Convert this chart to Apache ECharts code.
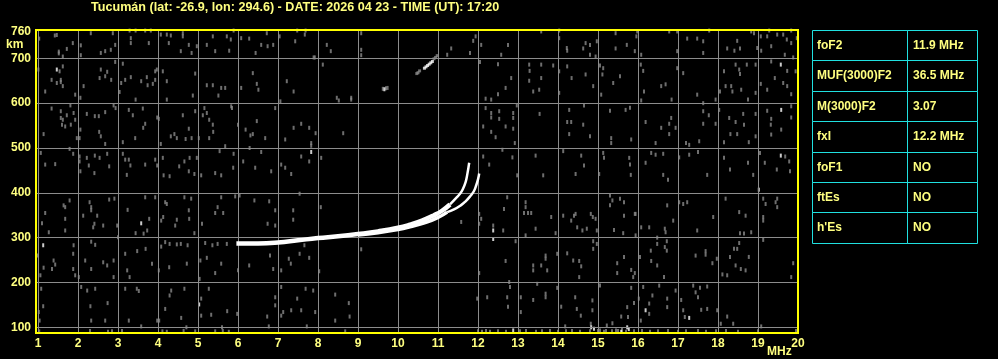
<!DOCTYPE html>
<html><head><meta charset="utf-8">
<script src="https://cdn.jsdelivr.net/npm/echarts@6/dist/echarts.min.js"></script>
<style>html,body{margin:0;padding:0;background:#000;}#c{width:998px;height:359px;}</style>
</head><body><div id="c"></div>
<script>
const titleText = 'Tucumán (lat: -26.9, lon: 294.6) - DATE: 2026 04 23 - TIME (UT): 17:20';
const freqTicks = [1,2,3,4,5,6,7,8,9,10,11,12,13,14,15,16,17,18,19,20];
const heightTicks = [100,200,300,400,500,600,700,760];
const heightGrid = [100,200,300,400,500,600,700];
const paramNames = ['foF2','MUF(3000)F2','M(3000)F2','fxI','foF1','ftEs',"h'Es"];
const paramValues = ['11.9 MHz','36.5 MHz','3.07','12.2 MHz','NO','NO','NO'];

// O-mode trace (thick lower part, thin upper cusp)
const oTraceLow = [[5.96,287],[6.5,287],[7.0,289],[7.5,294],[8.0,299],[8.5,303],[9.0,308],[9.5,314],[10.0,322],[10.3,329],[10.6,338],[10.9,350],[11.1,360],[11.3,374]];
const oTraceHigh = [[11.3,374],[11.45,388],[11.55,398],[11.62,408],[11.69,424],[11.73,440],[11.78,467]];
// X-mode trace
const xTraceLow = [[9.0,306],[9.5,311],[10.0,318],[10.3,324],[10.7,334],[11.0,345],[11.23,357]];
const xTraceHigh = [[11.23,357],[11.4,363],[11.57,372],[11.69,381],[11.82,394],[11.9,404],[11.96,418],[12.0,430],[12.03,443]];
// second-hop fragment
const echoGray = [[10.47,666],[10.5,668],[10.54,672],[10.9,699],[10.94,702],[10.98,706]];
const echoWhite = [[10.66,678],[10.7,681],[10.74,684],[10.78,687],[10.82,690],[10.86,693]];

const noiseGray = [
[1.47,752],[1.42,751],[1.03,744],[1.52,715],[1.52,711],[1.62,704],[1.72,721],[1.87,734],[2.07,729],[2.07,707],[2.32,756],[2.57,712],[2.68,716],[2.82,719],[2.87,756],[2.93,730],[3.29,762],[3.32,745],[3.32,734],[3.44,762],[3.68,762],[3.77,734],[3.82,762],[4.07,753],[4.22,753],[4.32,751],[4.27,734],[4.57,716],[4.62,756],[4.62,749],[4.77,730],[4.84,712],[4.97,727],[5.22,730],[5.37,749],[5.43,716],[5.72,749],[5.82,742],[5.78,717],[5.89,762],[6.08,745],[6.28,744],[6.44,712],[6.58,730],[6.72,756],[6.74,727],[6.88,730],[7.04,749],[7.43,738],[7.48,762],[7.67,753],[7.69,762],[7.89,702],[7.92,702],[8.22,730],[8.32,716],[9.08,756],[9.08,719],[9.08,707],
[1.01,675],[1.54,671],[1.62,682],[1.34,652],[1.47,645],[1.57,652],[1.57,647],[1.62,638],[1.18,626],[1.93,619],[2.06,612],[2.14,638],[2.57,675],[2.54,656],[2.73,670],[2.68,660],[2.83,652],[2.93,692],[3.12,688],[3.08,645],[3.04,625],[3.18,652],[3.32,658],[3.44,608],[3.58,649],[3.72,658],[3.74,640],[3.87,643],[3.93,671],[3.97,675],[3.93,652],[4.12,671],[4.22,649],[4.22,608],[4.87,617],[4.93,666],[5.22,640],[5.37,640],[5.51,617],[5.58,634],[5.68,634],[6.08,634],[6.37,667],[6.47,643],[6.51,630],[7.06,604],[7.22,649],[7.39,626],[8.12,686],[8.47,612],[8.52,606],[8.83,612],[8.83,608],[9.62,632],[9.7,633],[9.74,634],
[1.34,588],[1.57,582],[1.57,567],[1.62,563],[1.72,573],[1.81,595],[1.82,552],[1.89,578],[1.93,563],[1.68,548],[1.6,552],[1.14,531],[2.06,541],[1.97,522],[2.04,522],[2.22,576],[2.42,571],[2.52,571],[2.68,580],[2.53,536],[2.57,526],[2.68,509],[2.89,595],[2.94,589],[3.12,513],[3.27,585],[3.37,573],[3.43,522],[3.62,588],[3.68,554],[3.63,545],[3.98,568],[4.02,565],[4.07,509],[4.32,526],[4.41,531],[4.47,522],[4.62,573],[4.69,520],[4.77,543],[4.84,522],[4.93,582],[5.02,522],[5.12,573],[5.16,589],[5.22,578],[5.28,563],[5.37,552],[5.38,536],[5.28,522],[5.83,593],[5.85,589],[6.0,552],[6.19,541],[6.31,528],[6.37,531],[6.47,560],[6.68,522],[6.93,589],[7.18,519],[7.39,545],[7.58,554],[7.78,545],[7.94,533],[8.63,533],
[1.07,489],[1.18,463],[1.43,464],[1.79,498],[1.88,487],[2.04,481],[2.06,448],[2.04,470],[2.22,478],[2.27,461],[2.41,444],[2.42,483],[2.54,478],[2.73,487],[2.78,459],[3.12,487],[3.18,474],[3.27,474],[3.31,461],[3.22,440],[3.68,463],[3.93,474],[3.98,461],[4.12,478],[4.14,439],[4.29,437],[4.53,459],[4.66,470],[4.79,478],[4.77,448],[4.97,478],[4.91,442],[5.08,439],[5.43,444],[5.58,439],[5.68,504],[5.54,493],[5.89,487],[5.88,456],[6.13,470],[6.29,500],[6.43,456],[6.58,491],[6.83,448],[7.08,463],[7.18,456],[7.33,442],[7.58,481],[7.78,470],[7.83,511],[7.83,505],[8.08,478],
[1.18,355],[1.1,332],[1.27,312],[1.64,372],[1.68,368],[1.79,383],[1.68,342],[1.68,316],[2.13,349],[2.29,379],[2.33,368],[2.33,361],[2.41,331],[2.38,323],[2.48,349],[2.63,327],[2.78,385],[2.91,387],[2.98,327],[3.0,301],[3.24,362],[3.44,310],[3.64,309],[3.78,342],[3.73,316],[3.68,390],[3.93,390],[4.08,338],[4.13,346],[4.18,379],[4.22,375],[4.43,327],[4.47,340],[4.66,390],[4.78,342],[4.77,361],[4.91,310],[4.83,387],[5.1,331],[5.43,355],[5.49,368],[5.63,355],[5.58,390],[5.93,392],[6.04,394],[6.41,383],[6.74,331],[6.78,381],[6.93,361],[6.93,327],[7.38,361],[7.38,340],[8.07,368],[7.54,398],
[1.0,260],[1.39,249],[1.43,240],[1.35,230],[1.14,233],[1.06,216],[1.89,283],[1.88,264],[1.88,230],[1.93,216],[2.02,212],[2.18,249],[2.33,291],[2.43,284],[2.33,230],[2.63,245],[2.73,238],[2.89,249],[2.89,212],[3.18,264],[3.23,227],[3.29,212],[3.48,270],[3.69,275],[3.85,242],[4.02,227],[4.08,280],[4.18,290],[4.28,234],[4.29,286],[4.47,285],[4.57,286],[4.72,242],[4.74,283],[5.06,249],[5.04,208],[5.18,288],[5.22,255],[5.36,283],[5.43,221],[5.49,286],[5.58,242],[5.72,286],[6.0,227],[6.28,238],[6.8,260],[6.88,230],[7.08,227],[7.27,253],[7.32,242],[7.54,264],[7.78,255],[7.66,283],[8.03,225],[9.08,274],
[1.08,186],[1.13,147],[1.02,134],[1.04,115],[2.08,190],[2.23,182],[2.31,147],[2.33,115],[2.43,186],[2.74,154],[2.68,115],[3.18,186],[3.27,115],[3.47,186],[3.52,181],[3.58,102],[3.98,115],[4.03,115],[4.18,141],[4.29,171],[4.33,182],[4.58,121],[4.66,186],[4.71,100],[5.08,164],[5.08,126],[5.27,186],[5.33,128],[5.6,100],[5.73,136],[5.98,130],[6.73,124],[6.77,102],[6.93,167],[6.93,149],[7.08,190],[7.08,126],[7.13,134],[7.33,138],[7.48,164],[7.58,138],[7.69,186],[7.72,102],[7.88,182],[7.93,134],[8.43,173],[8.43,115],[8.77,154],[8.79,124],
[1.03,91],[2.3,92],[2.75,90],[2.85,91],[3.1,92],[4.11,91],[4.22,90],[4.64,92],[4.93,91],[5.43,91],[5.62,92],[5.77,90],[8.68,91],[12.0,91],[12.1,90],[12.2,92],[12.3,90],
[11.94,749],[11.88,739],[11.33,722],[11.23,708],[12.08,730],[11.8,712],[12.58,708],[12.75,730],[13.58,760],[14.03,762],[14.03,745],[14.22,723],[14.23,717],[14.69,734],[14.63,722],[14.8,730],[14.8,708],[14.97,738],[14.94,704],[15.44,756],[15.44,722],[15.72,730],[15.98,760],[15.96,749],[15.92,716],[16.08,708],[16.78,760],[16.98,760],[16.98,716],[17.23,744],[17.48,744],[17.63,738],[17.63,712],[17.78,762],[18.23,722],[18.41,717],[18.55,722],[18.48,739],[18.83,760],[18.9,756],[19.07,749],[18.98,723],[19.08,717],[19.28,762],[19.23,749],[19.33,727],[19.48,753],[19.63,753],[19.72,742],[19.83,762],[19.83,734],[19.97,745],[19.67,708],[19.88,702],
[12.05,692],[12.5,687],[12.83,656],[12.69,634],[12.5,620],[12.19,610],[12.33,608],[13.28,686],[13.29,672],[13.28,650],[13.38,626],[13.53,630],[13.58,686],[13.58,656],[13.88,684],[14.03,671],[14.03,623],[14.23,682],[14.34,656],[14.69,664],[14.88,638],[15.05,684],[15.13,678],[15.11,664],[15.08,619],[15.38,645],[15.55,660],[16.07,686],[16.13,672],[16.15,626],[16.08,606],[16.58,638],[16.69,642],[16.84,608],[16.98,678],[17.13,667],[17.48,619],[17.63,600],[17.94,608],[18.05,626],[18.15,671],[18.19,638],[18.33,638],[18.36,626],[18.44,686],[18.53,675],[18.55,665],[18.58,630],[18.72,686],[18.75,608],[18.94,686],[18.94,623],[19.07,643],[19.23,630],[19.33,693],[19.42,656],[19.73,672],[19.63,645],[19.73,638],[19.83,620],[19.94,671],
[12.19,589],[12.33,578],[12.33,568],[12.53,582],[12.53,565],[12.88,578],[12.88,567],[12.88,543],[12.13,548],[12.33,536],[12.44,524],[12.69,548],[12.92,511],[12.97,595],[13.54,576],[14.28,585],[14.23,558],[14.33,558],[14.28,531],[14.63,552],[14.65,595],[14.8,526],[15.3,583],[15.33,522],[15.33,511],[15.69,585],[15.8,590],[15.83,519],[16.19,558],[16.44,511],[16.58,545],[16.78,554],[16.83,567],[16.94,545],[16.78,531],[17.2,511],[17.28,507],[17.53,515],[17.63,582],[17.63,554],[17.77,573],[17.94,554],[18.03,585],[18.15,513],[18.28,567],[18.31,531],[18.44,558],[18.48,531],[18.63,576],[18.65,552],[18.77,513],[18.94,576],[18.94,526],[19.23,583],[19.33,565],[19.33,530],[19.32,552],[19.58,541],[19.83,593],[19.83,568],
[12.13,481],[12.28,463],[12.61,496],[12.86,479],[12.98,439],[13.44,483],[13.63,439],[14.13,493],[14.44,442],[14.58,483],[14.65,461],[15.13,489],[15.15,478],[15.03,442],[15.78,478],[15.8,463],[15.82,440],[16.33,489],[16.44,485],[16.63,487],[16.63,440],[16.19,467],[16.75,429],[17.28,485],[17.03,479],[17.5,491],[17.73,440],[18.15,478],[18.3,452],[18.75,467],[18.88,440],[19.05,489],[19.17,467],[19.47,452],[19.78,470],[19.8,448],[19.68,481],
[12.03,353],[12.08,342],[12.03,331],[11.58,335],[12.38,327],[12.63,316],[12.73,390],[12.65,364],[13.19,379],[13.19,368],[13.15,355],[13.25,355],[13.33,355],[13.19,305],[13.44,320],[13.83,346],[13.94,310],[14.13,349],[14.33,338],[14.4,349],[14.44,353],[14.48,323],[14.61,316],[14.72,320],[14.82,353],[14.87,346],[14.94,342],[14.97,316],[15.3,394],[15.3,372],[15.36,383],[15.4,317],[15.55,387],[15.63,310],[15.65,379],[15.65,349],[15.92,353],[15.94,353],[15.94,305],[16.08,323],[16.28,323],[16.67,320],[16.69,312],[16.73,372],[16.88,338],[17.03,379],[17.13,375],[17.23,379],[17.48,316],[17.88,346],[18.19,387],[18.53,357],[18.69,349],[18.55,310],[18.65,309],[18.83,312],[19.13,387],[19.13,346],[19.13,338],[19.19,375],[19.48,387],[19.48,368],[19.44,379],
[12.03,221],[12.69,248],[12.94,292],[13.38,238],[13.38,227],[13.58,238],[13.69,260],[13.69,253],[13.73,227],[13.98,264],[14.23,265],[14.38,249],[14.53,248],[14.53,212],[14.58,236],[14.88,292],[14.88,275],[14.97,286],[15.48,243],[15.48,221],[15.65,257],[15.83,228],[15.88,212],[15.92,221],[16.05,257],[16.32,271],[16.33,248],[16.48,300],[16.48,286],[16.48,238],[16.67,279],[16.72,292],[16.72,271],[16.65,212],[17.44,260],[17.69,270],[17.69,262],[17.86,243],[17.97,253],[18.11,218],[18.23,216],[18.3,257],[18.4,275],[18.48,275],[18.44,238],[18.53,288],[18.57,230],[18.69,227],[18.77,257],[19.13,295],[19.88,243],[19.83,212],
[11.98,164],[12.23,167],[12.73,167],[12.75,146],[12.78,201],[12.8,190],[13.07,167],[13.07,134],[13.38,161],[13.48,197],[13.69,175],[13.69,167],[13.98,188],[14.08,146],[14.18,102],[14.43,167],[14.47,141],[14.57,126],[14.86,160],[14.86,138],[14.82,108],[15.05,193],[15.22,104],[15.36,109],[15.58,124],[15.73,145],[15.75,123],[15.83,188],[15.9,154],[16.02,164],[16.07,115],[16.13,190],[16.28,130],[16.28,153],[16.36,171],[16.53,193],[16.73,164],[16.73,145],[16.94,182],[17.08,161],[17.13,138],[17.17,123],[17.38,193],[17.44,178],[17.5,167],[17.58,139],[17.55,188],[17.73,191],[17.73,141],[17.98,138],[18.07,108],[18.23,124],[18.38,108],[19.08,102],
[12.5,91],[12.7,90],[13.05,91],[13.2,92],[13.45,90],[13.6,91],[13.8,92],[14.0,90],[14.2,91],[14.35,92],[14.55,90],[14.8,91],[15.0,92],[15.15,90],[15.35,91],[15.5,92],[15.7,90],[15.9,91],[16.1,92],[16.3,90],[16.5,91],[16.75,92],[17.0,90],[17.2,91],[17.5,92],[17.7,90],[17.95,91],[18.2,92],[18.5,90],[19.0,91],[19.95,92],[15.05,93],[15.2,92],[15.45,93],[15.6,94]
];
const noiseWhite = [[1.47,675],[1.13,283],[3.58,332],[5.03,151],[7.83,491],[9.66,631],[12.38,316],[12.38,297],[19.57,686],[19.58,585],[19.57,483],[19.02,407],[14.83,100],[15.73,100],[16.19,138],[17.28,121],[12.88,93],[15.58,90],[14.9,97],[15.77,96]];

const YEL = '#ffff80';
const CYAN = '#20e0e0';
const FONT = '"Liberation Sans", Arial, sans-serif';

const chart = echarts.init(document.getElementById('c'), null, {renderer:'canvas'});

const tableLeft = 812, tableMid = 907, tableRight = 977, tableTop = 30, rowH = 30.4;
const graphics = [];
paramNames.forEach((name, i) => {
  const y0 = Math.round(tableTop + i*rowH) + 0.5;
  const y1 = Math.round(tableTop + (i+1)*rowH) + 0.5;
  graphics.push({type:'rect', shape:{x:tableLeft+0.5, y:y0, width:tableMid-tableLeft, height:y1-y0}, style:{fill:'none', stroke:CYAN, lineWidth:1}, silent:true});
  graphics.push({type:'rect', shape:{x:tableMid+0.5, y:y0, width:tableRight-tableMid, height:y1-y0}, style:{fill:'none', stroke:CYAN, lineWidth:1}, silent:true});
  graphics.push({type:'text', x:817, y:(y0+y1)/2, style:{text:name, fill:YEL, font:'bold 12px '+FONT, verticalAlign:'middle', align:'left'}, silent:true});
  graphics.push({type:'text', x:913, y:(y0+y1)/2, style:{text:paramValues[i], fill:YEL, font:'bold 12px '+FONT, verticalAlign:'middle', align:'left'}, silent:true});
});
graphics.push({type:'text', x:6, y:45, style:{text:'km', fill:YEL, font:'bold 12px '+FONT, verticalAlign:'middle', align:'left'}, silent:true});
graphics.push({type:'text', x:767, y:352, style:{text:'MHz', fill:YEL, font:'bold 12px '+FONT, verticalAlign:'middle', align:'left'}, silent:true});
// plot frame
graphics.push({type:'rect', z:100, shape:{x:36, y:30, width:762, height:303}, style:{fill:'none', stroke:'#ffff00', lineWidth:2}, silent:true});

const lineSeries = (data, w) => ({type:'line', data, showSymbol:false, symbol:'none', smooth:true, silent:true, z:5,
  lineStyle:{color:'#ffffff', width:w}, animation:false});

chart.setOption({
  backgroundColor:'#000000',
  animation:false,
  title:{text:titleText, left:91, top:1, padding:0, textStyle:{color:YEL, fontSize:12.6, fontWeight:'bold', fontFamily:FONT}},
  grid:{left:36, top:30, width:762, height:303, show:false, containLabel:false},
  xAxis:{type:'value', min:0.95, max:20, axisLine:{show:false}, axisTick:{show:false}, splitLine:{show:false},
    axisLabel:{customValues:freqTicks, color:YEL, fontSize:12, fontWeight:'bold', fontFamily:FONT, margin:5}},
  yAxis:{type:'value', min:87.3, max:763.2, axisLine:{show:false}, axisTick:{show:false}, splitLine:{show:false},
    axisLabel:{customValues:heightTicks, color:YEL, fontSize:12, fontWeight:'bold', fontFamily:FONT, margin:5}},
  graphic:graphics,
  series:[
    {type:'scatter', data:[], silent:true, z:1,
      markLine:{silent:true, symbol:['none','none'], label:{show:false}, animation:false,
        lineStyle:{color:'#8c8c8c', width:1, type:'solid'},
        emphasis:{disabled:true},
        data:[...freqTicks.map(v=>({xAxis:v})), ...heightGrid.map(v=>({yAxis:v}))]}},
    {type:'scatter', data:noiseGray, symbol:'rect', symbolSize:[2,4], silent:true, z:3, itemStyle:{color:'#8a8a8a'}},
    {type:'scatter', data:echoGray, symbol:'rect', symbolSize:[3,3], silent:true, z:3, itemStyle:{color:'#8a8a8a'}},
    {type:'scatter', data:noiseWhite, symbol:'rect', symbolSize:[2,4], silent:true, z:4, itemStyle:{color:'#ffffff'}},
    {type:'scatter', data:echoWhite, symbol:'rect', symbolSize:[3,3], silent:true, z:4, itemStyle:{color:'#ffffff'}},
    lineSeries(oTraceLow, 4.5),
    lineSeries(oTraceHigh, 2.5),
    lineSeries(xTraceLow, 3.5),
    lineSeries(xTraceHigh, 2.5)
  ]
});
</script></body></html>
